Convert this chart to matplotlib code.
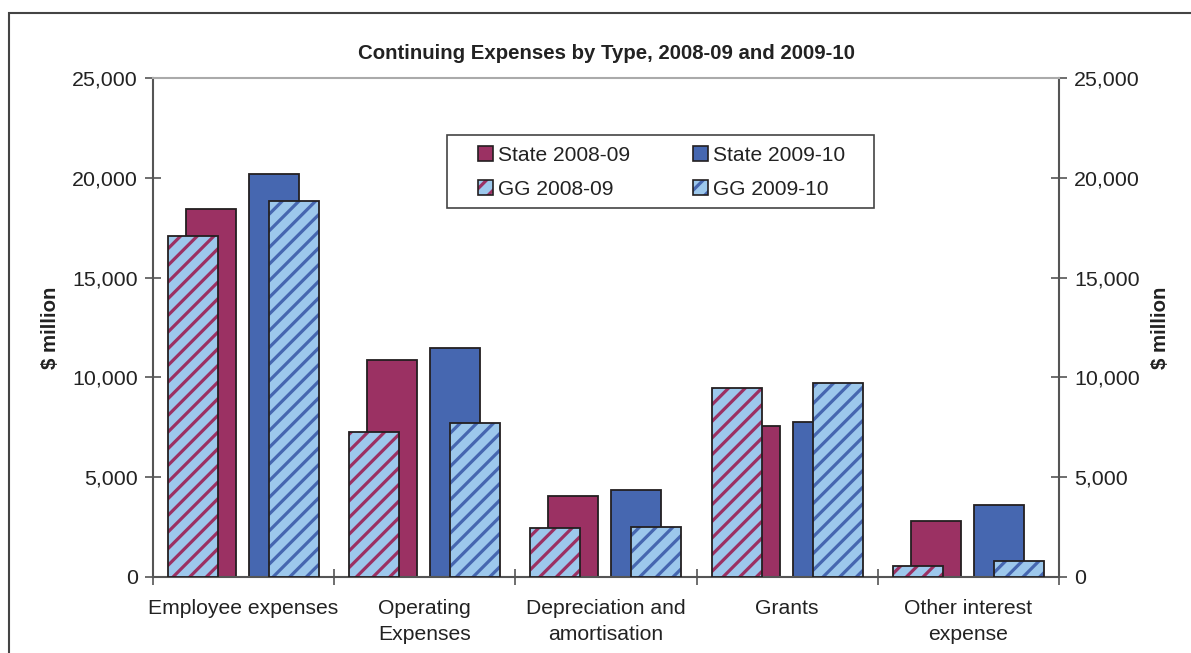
import matplotlib
matplotlib.use('Agg')
import matplotlib.pyplot as plt
import numpy as np
from matplotlib.patches import Rectangle
from matplotlib.legend_handler import HandlerTuple
from matplotlib.ticker import FuncFormatter

categories = ['Employee expenses', 'Operating\nExpenses', 'Depreciation and\namortisation',
              'Grants', 'Other interest\nexpense']
state_0809 = [18450, 10850, 4050, 7550, 2820]
state_0910 = [20170, 11450, 4350, 7770, 3600]
gg_0809 = [17100, 7250, 2450, 9485, 570]
gg_0910 = [18830, 7700, 2500, 9735, 800]

plum = '#9B3163'
blue = '#4667B0'
light = '#9DC8EC'
edge = '#231F20'

plt.rcParams['font.family'] = ['Liberation Sans', 'DejaVu Sans']
plt.rcParams['hatch.linewidth'] = 2.3

fig = plt.figure(figsize=(11.91, 6.53), dpi=100)
ax = fig.add_axes([153 / 1191, 1 - 577 / 653, (1059 - 153) / 1191, (577 - 78) / 653])

x = np.arange(len(categories))
w = 0.276


def solid(pos, vals, color):
    return ax.bar(pos, vals, w, color=color, edgecolor=edge, linewidth=1.3, zorder=2)


def hatched(pos, vals, color):
    # hatch colour follows edgecolor, so draw the stripes and the outline separately
    ax.bar(pos, vals, w, color=light, edgecolor=color, linewidth=0, hatch='//', zorder=3)
    ax.bar(pos, vals, w, fill=False, edgecolor=edge, linewidth=1.3, zorder=4)


solid(x + 0.320, state_0809, plum)
hatched(x + 0.221, gg_0809, plum)
solid(x + 0.668, state_0910, blue)
hatched(x + 0.778, gg_0910, blue)

ax.set_xlim(0, len(categories))
ax.set_ylim(0, 25000)
ax.set_yticks(np.arange(0, 25001, 5000))
ax.yaxis.set_major_formatter(FuncFormatter(lambda v, p: f'{v:,.0f}'))
ax.set_xticks(np.arange(0, len(categories) + 1))
ax.set_xticklabels([])
ax.set_xticks(x + 0.5, minor=True)
ax.set_xticklabels(categories, minor=True, fontsize=15.2, linespacing=1.45)
ax.tick_params(axis='x', which='minor', length=0, pad=16, colors='#222')
ax.tick_params(axis='x', which='major', direction='inout', length=12, color='#555', width=1.2)
ax.tick_params(axis='y', direction='inout', length=12, color='#555', width=1.2,
               right=True, labelright=True, labelsize=15.4, labelcolor='#222', pad=5)

for side in ['left', 'right', 'bottom']:
    ax.spines[side].set_color('#555')
    ax.spines[side].set_linewidth(1.5)
ax.spines['top'].set_color('#aaa')
ax.spines['top'].set_linewidth(1.5)

ax.set_title('Continuing Expenses by Type, 2008-09 and 2009-10', fontsize=14.7,
             fontweight='bold', color='#222', pad=14)
fig.text(50 / 1191, 1 - 328 / 653, '$ million', rotation=90, fontsize=14.7,
         fontweight='bold', ha='center', va='center', color='#222')
fig.text(1160 / 1191, 1 - 328 / 653, '$ million', rotation=90, fontsize=14.7,
         fontweight='bold', ha='center', va='center', color='#222')

# legend handles: solid squares and hatched squares built from two layers
h_st08 = Rectangle((0, 0), 1, 1, facecolor=plum, edgecolor=edge, linewidth=1.2)
h_st09 = Rectangle((0, 0), 1, 1, facecolor=blue, edgecolor=edge, linewidth=1.2)
h_gg08 = (Rectangle((0, 0), 1, 1, facecolor=light, edgecolor=plum, linewidth=0, hatch='//'),
          Rectangle((0, 0), 1, 1, fill=False, edgecolor=edge, linewidth=1.2))
h_gg09 = (Rectangle((0, 0), 1, 1, facecolor=light, edgecolor=blue, linewidth=0, hatch='//'),
          Rectangle((0, 0), 1, 1, fill=False, edgecolor=edge, linewidth=1.2))
leg = ax.legend([h_st08, h_gg08, h_st09, h_gg09],
                ['State 2008-09', 'GG 2008-09', 'State 2009-10', 'GG 2009-10'],
                handler_map={tuple: HandlerTuple(ndivide=1)}, ncol=2,
                loc='upper left', bbox_to_anchor=(478 / 1191, 1 - 146 / 653),
                bbox_transform=fig.transFigure, fontsize=15.1, frameon=False,
                handlelength=0.7, handleheight=0.7, handletextpad=0.25,
                columnspacing=3.0, borderpad=0, labelspacing=0.7, borderaxespad=0)
for t in leg.get_texts():
    t.set_color('#222')

# legend box drawn on its own so the padding can be set per side
fig.add_artist(Rectangle((447 / 1191, 1 - 208 / 653), (874 - 447) / 1191, 73 / 653,
                         transform=fig.transFigure, fill=False, edgecolor='#444',
                         linewidth=1.2))

fig.add_artist(Rectangle((9 / 1191, -0.1), 2, 1.1 - 13 / 653, transform=fig.transFigure,
                         fill=False, edgecolor='#444', linewidth=1.5))

fig.savefig('out.png', dpi=100)
